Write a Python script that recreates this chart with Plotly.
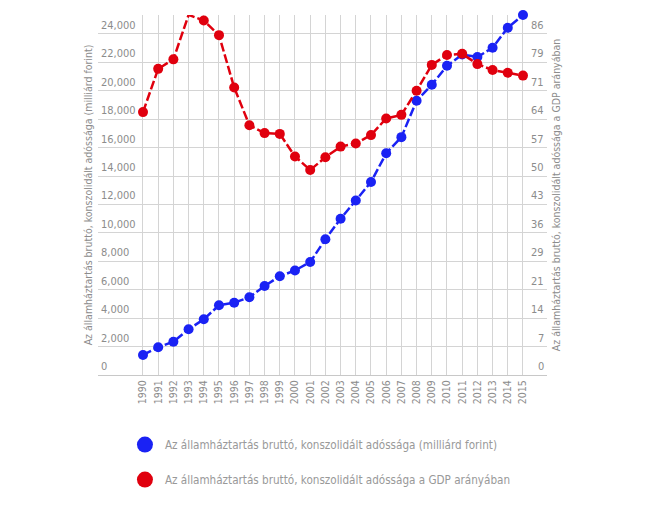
import plotly.graph_objects as go

years = list(range(1990, 2016))
debt_bn = [1410, 1950, 2345, 3216, 3920, 4905, 5090, 5470, 6260, 6950, 7360, 7950, 9550,
           11000, 12280, 13580, 15600, 16740, 19300, 20430, 21760, 22550, 22380, 23030, 24440, 25330]
debt_gdp = [66.3, 77.2, 79.6, 90.8, 89.4, 85.7, 72.5, 63.0, 61.0, 60.8, 55.1, 51.7, 54.9,
            57.6, 58.4, 60.5, 64.7, 65.6, 71.7, 78.2, 80.7, 81.0, 78.4, 76.9, 76.2, 75.5]
left_tickvals = list(range(0, 24001, 2000))
left_ticktext = ["0", "2,000", "4,000", "6,000", "8,000", "10,000", "12,000", "14,000",
                 "16,000", "18,000", "20,000", "22,000", "24,000"]
right_ticktext = ["0", "7", "14", "21", "29", "36", "43", "50", "57", "64", "71", "79", "86"]

name_bn = "Az államháztartás bruttó, konszolidált adóssága (milliárd forint)"
name_gdp = "Az államháztartás bruttó, konszolidált adóssága a GDP arányában"

BLUE = "#1a22f4"
RED = "#e0000e"
FONT = "Liberation Sans Narrow, DejaVu Sans Condensed, sans-serif"
GRAY = "#8c8c8c"
GRID = "#d4d4d4"

left_max = 25335
right_max = left_max * 86 / 24000
right_tickvals = [i * 86 / 12 for i in range(13)]

fig = go.Figure()
fig.add_trace(go.Scatter(x=years, y=debt_gdp, yaxis="y2", mode="lines+markers",
                         line=dict(color=RED, width=2.5, dash="9px,3px"),
                         marker=dict(color=RED, size=10), cliponaxis=False, showlegend=False))
fig.add_trace(go.Scatter(x=years, y=debt_bn, yaxis="y", mode="lines+markers",
                         line=dict(color=BLUE, width=2.5, dash="9px,3px"),
                         marker=dict(color=BLUE, size=10), cliponaxis=False, showlegend=False))
fig.add_trace(go.Scatter(x=[None], y=[None], mode="markers", name=name_bn,
                         marker=dict(color=BLUE, size=16), legendgroup="a"))
fig.add_trace(go.Scatter(x=[None], y=[None], mode="markers", name=name_gdp,
                         marker=dict(color=RED, size=16), legendgroup="b"))

# tick labels sitting just above their grid lines, inside the plot
for v, t in zip(left_tickvals, left_ticktext):
    fig.add_annotation(x=0, xref="paper", y=v, yref="y", text=t, showarrow=False,
                       xanchor="left", yanchor="bottom", xshift=1, yshift=0,
                       font=dict(size=11, color=GRAY, family=FONT))
for v, t in zip(right_tickvals, right_ticktext):
    fig.add_annotation(x=1, xref="paper", y=v, yref="y2", text=t, showarrow=False,
                       xanchor="right", yanchor="bottom", xshift=-1, yshift=0,
                       font=dict(size=11, color=GRAY, family=FONT))

fig.update_layout(
    width=642, height=505,
    margin=dict(l=90, r=103, t=7, b=138),
    paper_bgcolor="white", plot_bgcolor="white",
    font=dict(family=FONT, size=11, color=GRAY),
    xaxis=dict(range=[1987.04, 2016.58], tickvals=years, tickangle=-90,
               showgrid=True, gridcolor=GRID, gridwidth=1, zeroline=False,
               showline=True, linecolor="#c8c8c8", linewidth=1, automargin=False,
               tickfont=dict(size=10.5, color=GRAY), ticks=""),
    yaxis=dict(range=[0, left_max], tickvals=left_tickvals, showticklabels=False,
               showgrid=True, gridcolor=GRID, zeroline=False, automargin=False, ticks="",
               title=dict(text=name_bn, font=dict(size=10.5, color=GRAY), standoff=2)),
    yaxis2=dict(range=[0, right_max], overlaying="y", side="right",
                tickvals=right_tickvals, showticklabels=False, ticks="",
                showgrid=False, zeroline=False, automargin=False,
                title=dict(text=name_gdp, font=dict(size=10.5, color=GRAY), standoff=5)),
    legend=dict(x=0.06, xanchor="left", y=-0.153, yanchor="top", orientation="v",
                font=dict(size=11.6, color="#999999"), tracegroupgap=16, itemwidth=30),
    showlegend=True,
)

fig.write_html("out.html")
